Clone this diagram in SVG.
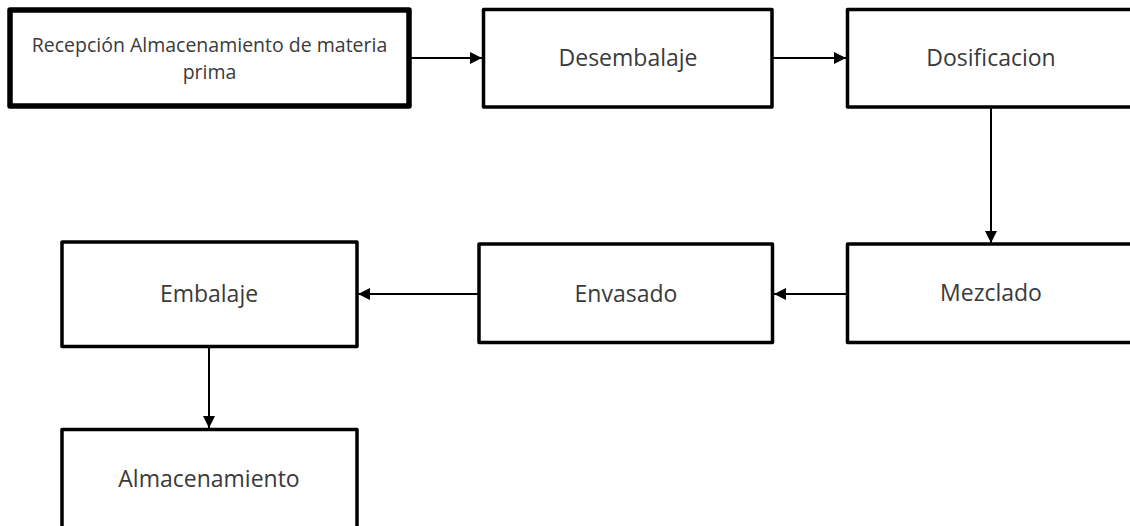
<svg xmlns="http://www.w3.org/2000/svg" width="1130" height="526" viewBox="0 0 1130 526">
<defs>
<style>
.box{fill:#fff;stroke:#000;stroke-width:3.5;stroke-linejoin:round}
.thick{stroke-width:5.5}
.lbl{font-family:"Open Sans","Noto Sans",sans-serif;font-size:23px;fill:#3a3a3a;text-anchor:middle}
.small{font-size:19.5px}
.conn{stroke:#000;stroke-width:2;fill:none}
</style>
<marker id="arr" viewBox="0 0 10 10" refX="10" refY="5" markerWidth="6" markerHeight="6" orient="auto" markerUnits="strokeWidth">
<path d="M0,0 L10,5 L0,10 Z" fill="#000"/>
</marker>
</defs>
<rect width="1130" height="526" fill="#fff"/>
<g id="connectors">
<line class="conn" x1="411" y1="58" x2="482" y2="58" marker-end="url(#arr)"/>
<line class="conn" x1="773" y1="58" x2="846" y2="58" marker-end="url(#arr)"/>
<line class="conn" x1="991" y1="108" x2="991" y2="243" marker-end="url(#arr)"/>
<line class="conn" x1="846" y1="294" x2="774" y2="294" marker-end="url(#arr)"/>
<line class="conn" x1="478" y1="294" x2="358" y2="294" marker-end="url(#arr)"/>
<line class="conn" x1="209" y1="348" x2="209" y2="428" marker-end="url(#arr)"/>
</g>
<g id="n1">
<rect class="box thick" x="10" y="10" width="399" height="96"/>
<text class="lbl small" x="209.5" y="52">Recepción Almacenamiento de materia<tspan x="209.5" dy="27">prima</tspan></text>
</g>
<g id="n2">
<rect class="box" x="483.5" y="9.5" width="288.5" height="97.5"/>
<text class="lbl" x="628" y="66">Desembalaje</text>
</g>
<g id="n3">
<rect class="box" x="847.5" y="9.5" width="288" height="97.5"/>
<text class="lbl" x="991" y="66">Dosificacion</text>
</g>
<g id="n4">
<rect class="box" x="847.5" y="244" width="288" height="98.5"/>
<text class="lbl" x="991" y="301">Mezclado</text>
</g>
<g id="n5">
<rect class="box" x="479" y="244" width="293.5" height="98.5"/>
<text class="lbl" x="626" y="302">Envasado</text>
</g>
<g id="n6">
<rect class="box" x="62" y="242" width="295" height="104.5"/>
<text class="lbl" x="209" y="302">Embalaje</text>
</g>
<g id="n7">
<rect class="box" x="62" y="429.5" width="295" height="110"/>
<text class="lbl" x="209" y="487">Almacenamiento</text>
</g>
</svg>
